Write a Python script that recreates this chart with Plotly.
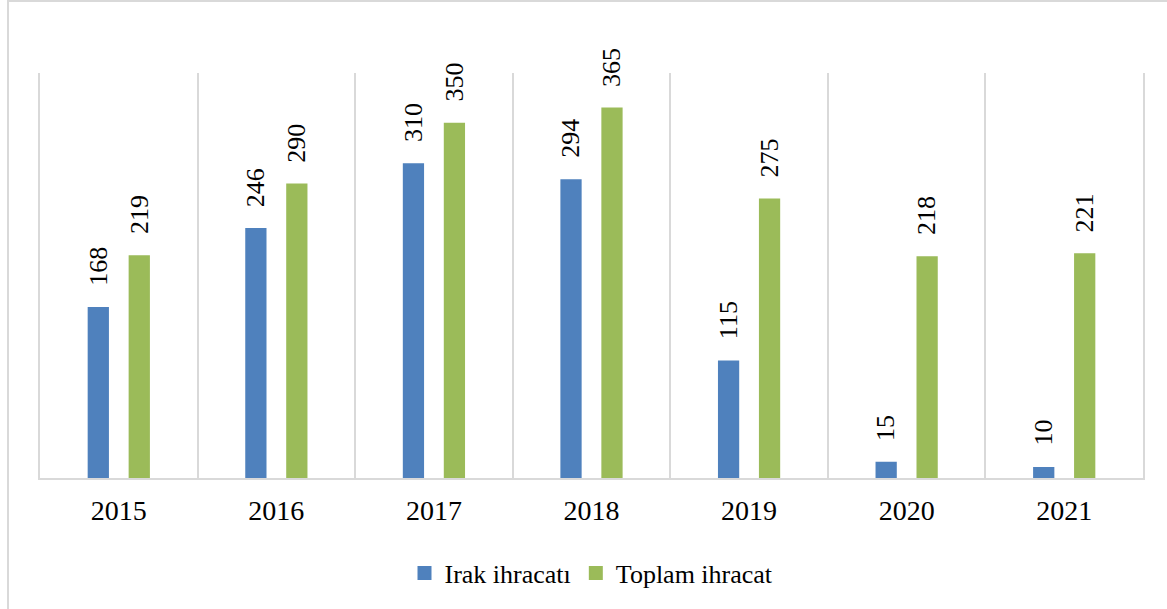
import plotly.graph_objects as go

years = ["2015", "2016", "2017", "2018", "2019", "2020", "2021"]
irak = [168, 246, 310, 294, 115, 15, 10]
toplam = [219, 290, 350, 365, 275, 218, 221]
series_names = ["Irak ihracatı", "Toplam ihracat"]
colors = ["#4f81bd", "#9bbb59"]

W, H = 1167, 609
ml, mr, mt, mb = 40, 24, 73, 131
FONT = "Liberation Serif, Times New Roman, serif"

fig = go.Figure()
for vals, nm, c in ((irak, series_names[0], colors[0]), (toplam, series_names[1], colors[1])):
    fig.add_trace(go.Bar(x=years, y=vals, name=nm, marker_color=c,
                         marker_line=dict(color=c, width=2)))

# data labels (rotated) above each bar; category positions by index
cat_w = (W - ml - mr) / len(years)
off = cat_w * 0.26 / 2
for vals, sh in ((irak, -off), (toplam, off)):
    for i, v in enumerate(vals):
        fig.add_annotation(x=i, y=v, xref="x", yref="y", text=str(v), showarrow=False,
                           textangle=-90, xanchor="center", yanchor="bottom",
                           xshift=sh, yshift=20,
                           font=dict(family=FONT, size=26, color="#000000"))

pw = W - ml - mr
ph = H - mt - mb
fig.add_shape(type="rect", xref="paper", yref="paper",
              x0=(8 - ml) / pw, x1=(W + 10 - ml) / pw,
              y0=(H - mb - (H + 10)) / ph, y1=(H - mb - 1) / ph,
              line=dict(color="#d9d9d9", width=2), fillcolor="rgba(0,0,0,0)", layer="below")

fig.update_layout(
    width=W, height=H,
    margin=dict(l=ml, r=mr, t=mt, b=mb),
    paper_bgcolor="white", plot_bgcolor="white",
    barmode="group", bargap=0.48, bargroupgap=0.53,
    font=dict(family=FONT, color="#000000"),
    showlegend=True,
    legend=dict(orientation="h", x=0.5, xanchor="center", y=-0.235, yanchor="middle",
                font=dict(family=FONT, size=26), traceorder="normal"),
)
fig.update_xaxes(type="category", range=[-0.5, len(years) - 0.5], tickson="boundaries",
                 showgrid=True, gridcolor="#d9d9d9",
                 gridwidth=1.5, showline=True, linecolor="#d9d9d9", linewidth=2,
                 ticks="", tickfont=dict(family=FONT, size=28), ticklabelstandoff=6)
fig.update_yaxes(range=[0, 400], showgrid=False, showticklabels=False, zeroline=False,
                 showline=True, mirror=True, linecolor="#d9d9d9", linewidth=1.5, ticks="")

fig.write_html("out.html", config={"displayModeBar": False},
               post_script="document.body.style.margin='0px';")
